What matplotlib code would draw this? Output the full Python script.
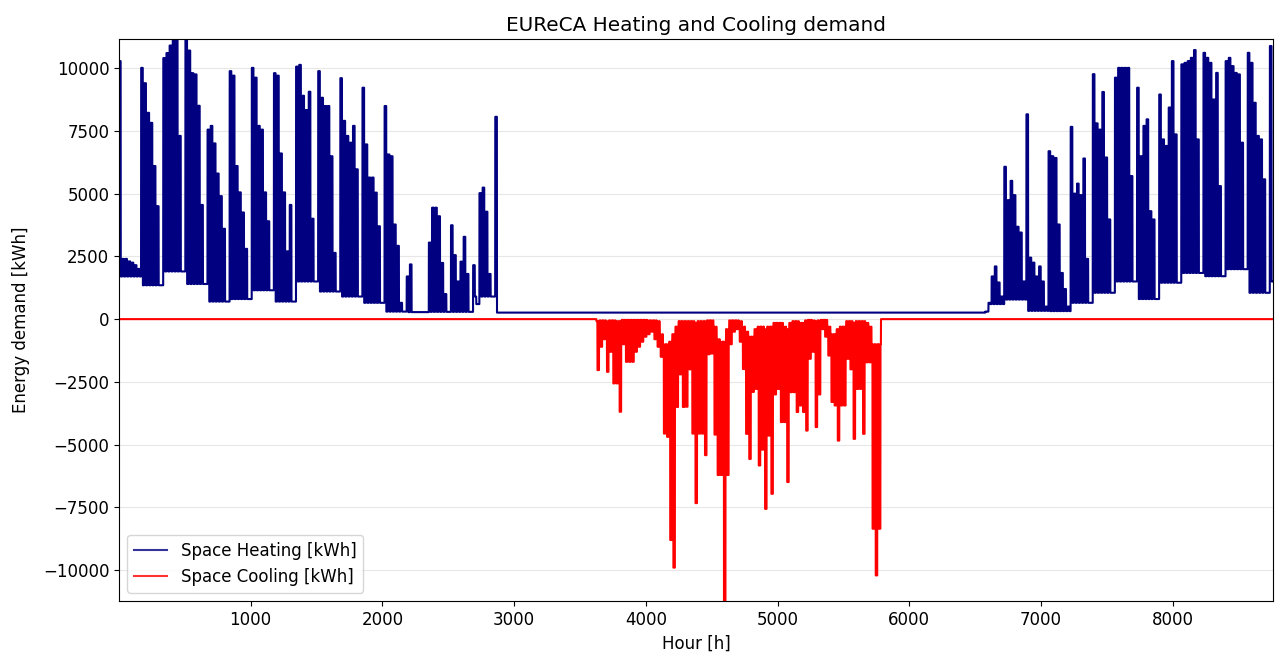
import numpy as np
import matplotlib.pyplot as plt

plt.rcParams['font.size'] = 12

# heating: daily peak per week (Mon..Sun) and night base per week
heat_peaks_winter = [
    [10280, 2400, 2400, 2300, 2250, 2150, 2000],   # week 0
    [10010, 9400, 8220, 7820, 6100, 4500, 1350],
    [10400, 10600, 10900, 11400, 11400, 7300, 1900],
    [11400, 10700, 9800, 9750, 8500, 4550, 1400],
    [7550, 7700, 7000, 5800, 4900, 3600, 700],
    [9880, 9700, 6100, 5050, 4250, 2800, 800],
    [10010, 9620, 7700, 7550, 5050, 3900, 1150],
    [9800, 9700, 6600, 5050, 2700, 4550, 700],
    [10060, 10130, 8900, 8330, 9060, 4000, 1500],
    [9880, 8820, 8490, 8490, 6490, 2640, 1100],
    [9600, 7900, 7300, 7030, 7700, 5970, 900],
    [9220, 6960, 5640, 5640, 5040, 3700, 650],
    [8490, 6560, 6490, 3770, 2920, 650, 300],
    [1700, 2180, 280, 280, 280, 280, 280],
    [3050, 4440, 4440, 4100, 2240, 1000, 290],
    [3740, 2550, 1500, 2290, 3280, 1800, 290],
    [2150, 600, 5020, 5240, 4280, 1800, 900],
    [8060, 260, 260, 260, 260, 260, 260],          # week 17
]
heat_base_winter = [1700, 1350, 1900, 1400, 700, 800, 1150, 700, 1500,
                    1100, 900, 650, 300, 280, 290, 290, 900, 260]

heat_summer = 260

autumn_first_week = 39
heat_peaks_autumn = [
    [260, 300, 650, 1700, 2100, 1460, 900],        # week 39
    [6070, 4740, 5510, 4940, 3680, 3450, 1500],
    [8160, 2450, 2250, 1700, 2100, 1500, 500],
    [6690, 6490, 6420, 3770, 1840, 1200, 500],
    [7660, 5000, 5400, 4940, 6400, 2400, 650],
    [9760, 7800, 7550, 9050, 6440, 3970, 1050],
    [9620, 10010, 10010, 10010, 10010, 5700, 1500],
    [9220, 6490, 7700, 7960, 4300, 3970, 800],
    [8950, 7160, 6900, 8430, 10280, 7360, 1450],
    [10150, 10210, 10280, 10410, 10720, 7160, 1840],
    [10610, 10410, 10210, 8750, 9810, 5300, 1710],
    [10280, 10410, 10080, 9810, 9750, 7030, 1990],
    [10610, 10210, 8620, 7300, 7160, 5570, 1050],
    [10880],                                        # week 52 (last day)
]
heat_base_autumn = [600, 780, 330, 320, 650, 1050, 1500, 800, 1450,
                    1840, 1710, 1990, 1050, 1500]

# cooling: daily peak (most negative) and night value, day 151 .. 240
cool_first_day = 151
cool_peaks = [
    -2030, -1100, -800, -2100, -1300, -2560, -2560, -3690, -1000, -1700,
    -1700, -1700, -1300, -1100, -900, -700, -600, -500, -800, -1100,
    -1500, -4560, -4690, -8800, -9900, -3500, -2200, -3500, -3490, -2000,
    -4560, -7330, -4560, -4560, -5420, -1400, -1370, -4600, -6210, -6210,
    -11240, -6210, -1000, -500, -400, -900, -1990, -4570, -5570, -2900,
    -2780, -5830, -5200, -7560, -4640, -6960, -3000, -2780, -4100, -4100,
    -6490, -2910, -2910, -3700, -3440, -3700, -4440, -1580, -1300, -4300,
    -3000, -400, -700, -1450, -3300, -3440, -4840, -3440, -3440, -1580,
    -2000, -4770, -2780, -2780, -4570, -1720, -1720, -8350, -10210, -8350,
]
cool_night = [
    -80, -50, -50, -80, -50, -50, -80, -80, -30, -30,
    -30, -30, -30, -30, -30, -30, -50, -50, -50, -80,
    -600, -1000, -1000, -900, -600, -300, -80, -80, -80, -80,
    -80, -150, -80, -80, -80, -50, -50, -300, -800, -900,
    -900, -400, -50, -50, -50, -80, -300, -500, -700, -700,
    -400, -300, -300, -400, -300, -300, -150, -150, -150, -300,
    -400, -150, -80, -80, -150, -150, -50, -30, -50, -80,
    -50, -30, -30, -300, -600, -600, -400, -300, -300, -80,
    -80, -150, -80, -80, -80, -150, -300, -1000, -1000, -1000,
]

hours = np.arange(1, 8761)
heating = np.full(8760, heat_summer, dtype=float)
cooling = np.zeros(8760)


def put_weeks(series, first_week, peaks, bases):
    for w, (row, base) in enumerate(zip(peaks, bases)):
        for i, p in enumerate(row):
            d = (first_week + w) * 7 + i
            series[d * 24:d * 24 + 13] = p
            series[d * 24 + 13:d * 24 + 24] = min(p, base)


put_weeks(heating, 0, heat_peaks_winter, heat_base_winter)
put_weeks(heating, autumn_first_week, heat_peaks_autumn, heat_base_autumn)

for i, (lo, top) in enumerate(zip(cool_peaks, cool_night)):
    d = cool_first_day + i
    cooling[d * 24:d * 24 + 8] = top
    cooling[d * 24 + 8:d * 24 + 20] = lo
    cooling[d * 24 + 20:d * 24 + 24] = top

fig, ax = plt.subplots(figsize=(12.76, 6.59), dpi=100)
fig.subplots_adjust(left=0.0933, right=0.9976, top=0.9408, bottom=0.088)

ax.plot(hours, heating, color='navy', label='Space Heating [kWh]')
ax.plot(hours, cooling, color='red', label='Space Cooling [kWh]')

ax.set_xlim(1, 8760)
ax.set_ylim(-11230, 11160)
ax.grid(axis='y', alpha=0.3)
ax.set_title('EUReCA Heating and Cooling demand')
ax.set_xlabel('Hour [h]')
ax.set_ylabel('Energy demand [kWh]', labelpad=9)
leg = ax.legend(loc='lower left')
for h in leg.get_lines():
    h.set_alpha(0.8)

fig.savefig('out.png')
